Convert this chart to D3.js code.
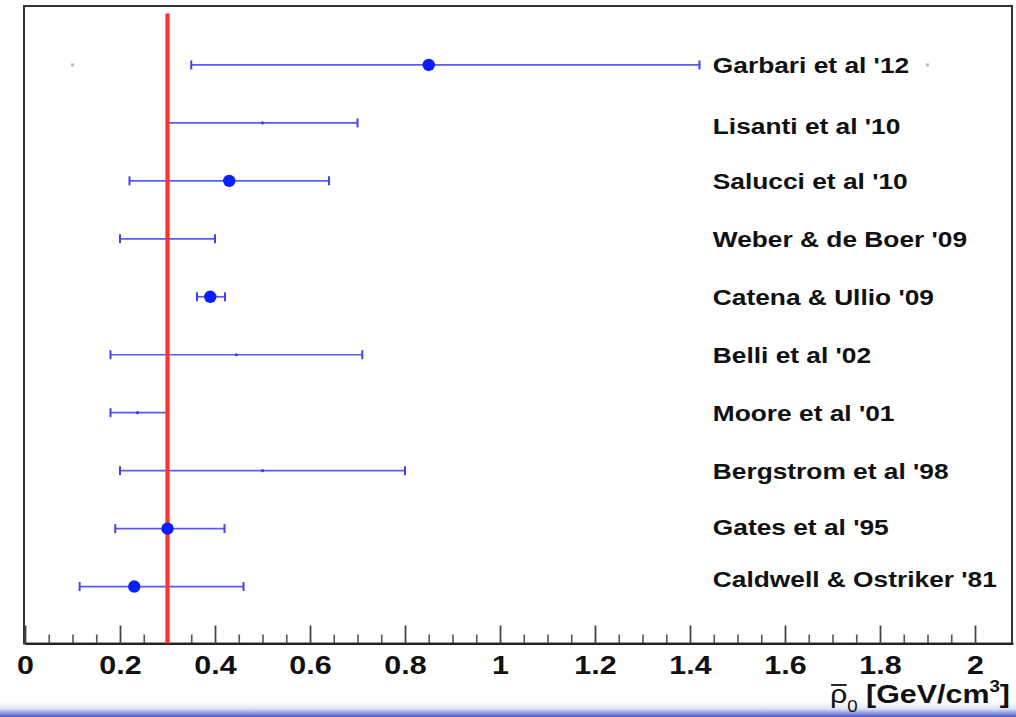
<!DOCTYPE html>
<html>
<head>
<meta charset="utf-8">
<script src="https://cdn.jsdelivr.net/npm/d3@7"></script>
<style>
  html, body { margin: 0; padding: 0; background: #fff; }
  svg { display: block; }
  text { font-family: "Liberation Sans", Arial, Helvetica, sans-serif; font-weight: bold; fill: #111; }
</style>
</head>
<body>
<svg id="chart" width="1016" height="717"></svg>
<script>
// Local dark matter density determinations, bottom row first
const studies = [
  "Caldwell & Ostriker '81",
  "Gates et al '95",
  "Bergstrom et al '98",
  "Moore et al '01",
  "Belli et al '02",
  "Catena & Ullio '09",
  "Weber & de Boer '09",
  "Salucci et al '10",
  "Lisanti et al '10",
  "Garbari et al '12"
];
const rowIndex = [1, 2, 3, 4, 5, 6, 7, 8, 9, 10];
const central  = [0.23, 0.30, 0.50, 0.237, 0.445, 0.39, 0.30, 0.43, 0.50, 0.85];
const lower    = [0.115, 0.19, 0.20, 0.18, 0.18, 0.362, 0.20, 0.22, 0.30, 0.35];
const upper    = [0.46, 0.42, 0.80, 0.30, 0.71, 0.421, 0.40, 0.64, 0.70, 1.42];
const hasPoint = [true, true, false, false, false, true, false, true, false, true];
// label anchor rows (annotation coordinates)
const labelRow = [1.14, 2.03, 3, 4, 5, 6, 7, 8, 8.95, 10];
// grey guide markers on the top row
const guideX = [0.1, 1.9];
const guideRow = 10;
// reference density line
const rhoRef = 0.3;
// axis ticks
const majorTicks = [0, 0.2, 0.4, 0.6, 0.8, 1.0, 1.2, 1.4, 1.6, 1.8, 2.0];
const minorTicks = d3.range(0, 41).map(i => i * 0.05).filter(v => !majorTicks.some(m => Math.abs(m - v) < 1e-9));

const rows = studies.map((name, i) => ({
  name, row: rowIndex[i], c: central[i], lo: lower[i], hi: upper[i], pt: hasPoint[i], lr: labelRow[i]
}));

const svg = d3.select("#chart");
const W = 1016, H = 717;
const frame = { left: 25, right: 1013, top: 7, bottom: 644.5 };
const stretch = 1.17;

const x = d3.scaleLinear().domain([0, 2.08]).range([frame.left, frame.right]);
const y = d3.scaleLinear().domain([0, 11]).range([frame.bottom, frame.top]);

// bottom shading strip
const defs = svg.append("defs");
const grad = defs.append("linearGradient").attr("id", "strip").attr("x1", 0).attr("y1", 0).attr("x2", 0).attr("y2", 1);
grad.append("stop").attr("offset", "0%").attr("stop-color", "#ffffff");
grad.append("stop").attr("offset", "45%").attr("stop-color", "#dfe2f5");
grad.append("stop").attr("offset", "100%").attr("stop-color", "#4757cc");
svg.append("rect").attr("x", 0).attr("y", 702).attr("width", W).attr("height", 15).attr("fill", "url(#strip)");

// frame
svg.append("rect")
  .attr("x", frame.left - 1).attr("y", frame.top - 1)
  .attr("width", frame.right - frame.left).attr("height", frame.bottom - frame.top)
  .attr("fill", "none").attr("stroke", "#333").attr("stroke-width", 2);

// minor ticks
svg.append("g")
  .attr("transform", `translate(0,${frame.bottom - 1})`)
  .call(d3.axisBottom(x).tickValues(minorTicks).tickSizeInner(-9).tickSizeOuter(0).tickFormat(""))
  .call(g => g.select(".domain").remove())
  .call(g => g.selectAll("line").attr("stroke", "#555").attr("stroke-width", 1.6));

// major ticks with labels
const xAxis = svg.append("g")
  .attr("transform", `translate(0,${frame.bottom - 1})`)
  .call(d3.axisBottom(x).tickValues(majorTicks).tickSizeInner(-18).tickSizeOuter(0).tickPadding(12)
    .tickFormat(d => String(+d.toFixed(1))));
xAxis.select(".domain").attr("stroke", "#222").attr("stroke-width", 2);
xAxis.selectAll(".tick line").attr("stroke", "#444").attr("stroke-width", 1.8);
xAxis.selectAll(".tick text")
  .attr("fill", "#111")
  .style("font-size", "26px")
  .style("font-weight", "bold")
  .style("font-family", "'Liberation Sans', Arial, sans-serif")
  .attr("transform", `scale(${stretch},1)`);

// axis title: mean density symbol with overline, then units
const titleG = svg.append("g").attr("transform", `translate(1010,703) scale(${stretch},1)`);
const title = titleG.append("text")
  .attr("text-anchor", "end")
  .style("font-size", "26px");
title.append("tspan").style("font-weight", "normal").text("\u03C1");
title.append("tspan").attr("dy", 9).style("font-size", "16px").style("font-weight", "normal").text("0");
title.append("tspan").attr("dy", -9).text(" [GeV/cm");
title.append("tspan").attr("dy", -11).style("font-size", "16px").text("3");
title.append("tspan").attr("dy", 11).text("]");
const rhoBox = title.node().getExtentOfChar(0);
titleG.append("line")
  .attr("x1", rhoBox.x + 1).attr("x2", rhoBox.x + rhoBox.width - 0.5)
  .attr("y1", -18).attr("y2", -18)
  .attr("stroke", "#111").attr("stroke-width", 1.8);

// grey guide markers
svg.append("g").selectAll("rect")
  .data(guideX)
  .join("rect")
  .attr("x", d => x(d) - 1.5).attr("y", y(guideRow) - 1.5)
  .attr("width", 3).attr("height", 3)
  .attr("fill", "#bdbdbd");

// error bars
const bars = svg.append("g");
bars.selectAll("line.bar")
  .data(rows)
  .join("line")
  .attr("class", "bar")
  .attr("x1", d => x(d.lo)).attr("x2", d => x(d.hi))
  .attr("y1", d => y(d.row)).attr("y2", d => y(d.row))
  .attr("stroke", "#5a5aff").attr("stroke-width", 1.7);

const caps = rows.flatMap(d => [{ v: d.lo, row: d.row }, { v: d.hi, row: d.row }]);
bars.selectAll("line.cap")
  .data(caps)
  .join("line")
  .attr("class", "cap")
  .attr("x1", d => x(d.v)).attr("x2", d => x(d.v))
  .attr("y1", d => y(d.row) - 4.5).attr("y2", d => y(d.row) + 4.5)
  .attr("stroke", "#4040ff").attr("stroke-width", 2);

// centre marks for ranges
bars.selectAll("circle.mid")
  .data(rows.filter(d => !d.pt))
  .join("circle")
  .attr("class", "mid")
  .attr("cx", d => x(d.c)).attr("cy", d => y(d.row))
  .attr("r", 1.6)
  .attr("fill", "#3a3aff");

// reference density line
svg.append("line")
  .attr("x1", x(rhoRef)).attr("x2", x(rhoRef))
  .attr("y1", y(10.89)).attr("y2", frame.bottom - 1)
  .attr("stroke", "#ff3030").attr("stroke-width", 4.2);

// central values
svg.append("g").selectAll("circle")
  .data(rows.filter(d => d.pt))
  .join("circle")
  .attr("cx", d => x(d.c)).attr("cy", d => y(d.row))
  .attr("r", 6.2)
  .attr("fill", "#0a1eff");

// study labels
svg.append("g").selectAll("text")
  .data(rows)
  .join("text")
  .attr("transform", d => `translate(${x(1.448)},${y(d.lr)}) scale(${stretch},1)`)
  .attr("dy", "0.36em")
  .style("font-size", "22.5px")
  .text(d => d.name);
</script>
</body>
</html>
